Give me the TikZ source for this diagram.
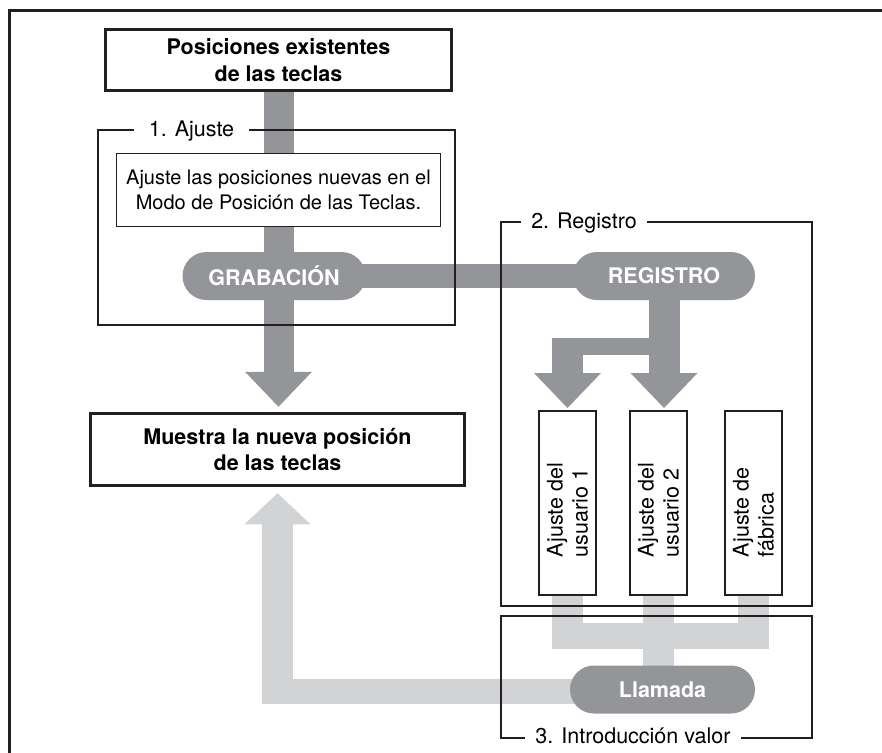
\documentclass[tikz,border=0pt]{standalone}
\usepackage{fontspec}
\setmainfont{TeX Gyre Heros}
\usetikzlibrary{arrows.meta,shapes.misc,calc}
\definecolor{darkg}{HTML}{939598}
\definecolor{lightg}{HTML}{D1D3D4}
\definecolor{ink}{HTML}{231F20}
\pgfdeclarelayer{bg}
\pgfsetlayers{bg,main}
\begin{document}
\begin{tikzpicture}[x=1pt,y=-1pt,
  mainbox/.style={draw=ink, line width=3.5pt, fill=white, align=center, inner sep=0pt,
    font=\fontsize{21.5}{26.5}\selectfont\bfseries},
  thinbox/.style={draw=ink, line width=1.8pt, fill=white, align=center, inner sep=0pt,
    font=\fontsize{20}{25}\selectfont},
  pill/.style={rounded rectangle, fill=darkg, text=white, minimum height=48pt, inner sep=0pt,
    font=\fontsize{21.5}{26}\selectfont\bfseries},
  setbox/.style={draw=ink, line width=2pt, fill=white, minimum width=57pt, minimum height=184pt,
    inner sep=0pt, font=\fontsize{21.5}{25}\selectfont},
  frame/.style={draw=ink, line width=1.6pt},
  lab/.style={fill=white, anchor=base, inner ysep=1pt, font=\fontsize{21.5}{26}\selectfont},
  darkarr/.style={darkg, line width=31pt, -{Triangle[width=67pt,length=35pt,line width=0pt 0 0]}},
  lightarr/.style={lightg, line width=31pt, -{Triangle[width=66pt,length=31pt,line width=0pt 0 0]}},
]
\useasboundingbox (0,0) rectangle (882,752);
% outer frame (top and left edges)
\draw[ink, line width=3pt] (9,760) -- (9,11) -- (890,11);

% main boxes
\node[mainbox, minimum width=346pt, minimum height=61pt] (top) at (278.5,60) {Posiciones existentes\\de las teclas};
\node[mainbox, minimum width=374pt, minimum height=72pt] (muestra) at (277.5,449.5) {Muestra la nueva posición\\de las teclas};

% frames
\draw[frame] (98,130) rectangle (455,325);
\draw[frame] (501,222) rectangle (812,606);
\draw[frame] (501,616) rectangle (812,738);
\node[lab, inner xsep=15pt] (l1) at (191.5,136) {1. Ajuste};
\node[lab, inner xsep=10pt] (l2) at (584,228) {2. Registro};
\node[lab, inner xsep=10pt] (l3) at (633,743) {3. Introducción valor};

% inner box
\node[thinbox, minimum width=324pt, minimum height=73pt] (inst) at (278.5,190) {Ajuste las posiciones nuevas en el\\Modo de Posición de las Teclas.};

% pills
\node[pill, minimum width=183pt] (grab) at (274,276) {GRABACIÓN};
\node[pill, minimum width=182pt] (reg) at (664,276) {REGISTRO};
\node[pill, minimum width=185pt] (call) at (662.5,689.5) {Llamada};

% setting boxes
\node[setbox] (u1) at (567.5,503) {\rotatebox{90}{\parbox{108pt}{Ajuste del\\usuario 1}}};
\node[setbox] (u2) at (658.5,503) {\rotatebox{90}{\parbox{108pt}{Ajuste del\\usuario 2}}};
\node[setbox] (fab) at (753.5,503) {\rotatebox{90}{\parbox{108pt}{Ajuste de\\fábrica}}};

\coordinate (bj) at (0,338);
\coordinate (lb) at (0,649);
\begin{pgfonlayer}{bg}
  % dark connectors
  \draw[darkarr, line width=30pt, shorten >=5pt] (top.south) -- (top.south |- muestra.north);
  \draw[darkg, line width=24pt] (grab.center) -- (reg.center);
  \draw[darkarr, shorten >=2pt] (reg.center) -- (reg.center |- u2.north);
  \draw[darkg, line width=17pt] ($(u1.north |- bj)+(-15.5,8.5)$) -- ($(reg.center |- bj)+(0,8.5)$);
  \draw[darkarr, shorten >=2pt] (u1.north |- bj) -- (u1.north);
  % light connectors
  \foreach \n in {u1,u2,fab} \draw[lightg, line width=31pt] (\n.south) -- (\n.south |- lb);
  \draw[lightg, line width=26pt] ($(u1.south |- lb)+(-15.5,-13)$) -- ($(fab.south |- lb)+(15.5,-13)$);
  \draw[lightg, line width=31pt] (u2.south) -- (u2.south |- call.center);
  \draw[lightg, line width=25pt] (call.center |- 0,691.5) -- ($(muestra.south |- 0,691.5)+(-15.5,0)$);
  \draw[lightarr, shorten >=6pt] (muestra.south |- 0,704) -- (muestra.south);
\end{pgfonlayer}
\end{tikzpicture}
\end{document}
